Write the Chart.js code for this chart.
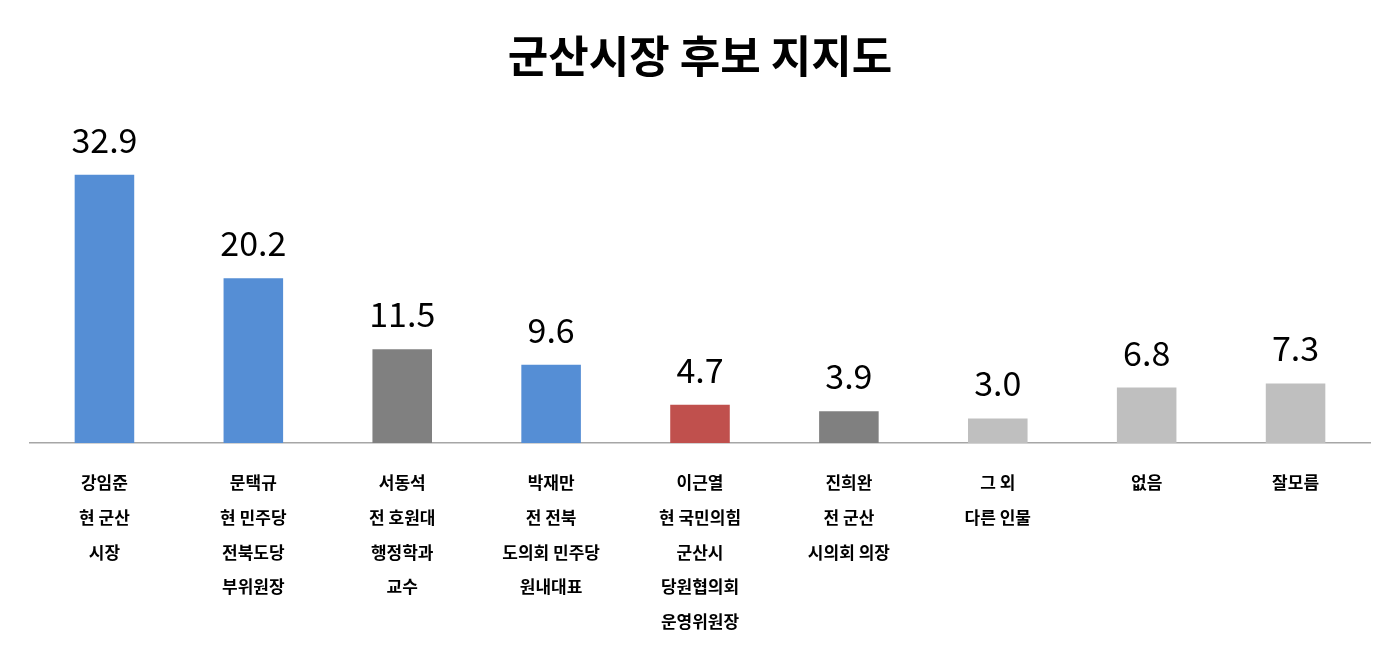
<!DOCTYPE html>
<html><head><meta charset="utf-8">
<script src="https://cdn.jsdelivr.net/npm/chart.js@4"></script>
<style>html,body{margin:0;background:#fff}#w{width:1400px;height:656px}</style>
</head><body><div id="w"><canvas id="c"></canvas></div>
<script>
const categories=[["강임준","현 군산","시장"],["문택규","현 민주당","전북도당","부위원장"],["서동석","전 호원대","행정학과","교수"],["박재만","전 전북","도의회 민주당","원내대표"],["이근열","현 국민의힘","군산시","당원협의회","운영위원장"],["진희완","전 군산","시의회 의장"],["그 외","다른 인물"],["없음"],["잘모름"]];
const values=[32.9,20.2,11.5,9.6,4.7,3.9,3.0,6.8,7.3];
const colors=["#558ED5","#558ED5","#808080","#558ED5","#C0504D","#808080","#BFBFBF","#BFBFBF","#BFBFBF"];
const title="군산시장 후보 지지도";
const F="'Noto Sans CJK KR','Malgun Gothic',sans-serif";
const deco={id:'deco',afterDraw(ch){const c=ch.ctx;c.save();c.fillStyle='#000';c.textAlign='center';
c.font="bold 44px "+F;c.textBaseline='middle';c.fillText(title,700,56);
c.font="34px "+F;c.textBaseline='bottom';const m=ch.getDatasetMeta(0);
m.data.forEach((b,i)=>c.fillText(values[i].toFixed(1),b.x,b.y-18));c.restore();}};
new Chart(document.getElementById('c'),{type:'bar',
data:{labels:categories,datasets:[{data:values,backgroundColor:colors,barPercentage:0.4,categoryPercentage:1}]},
options:{responsive:true,maintainAspectRatio:false,animation:false,
layout:{padding:{top:117,left:30,right:30,bottom:0}},
plugins:{legend:{display:false},tooltip:{enabled:false}},
scales:{y:{display:false,min:0,max:40},
x:{afterFit(s){s.height=213},grid:{display:false},border:{color:'#A6A6A6',width:1.5},
ticks:{color:'#000',font:{family:F,size:17,weight:'bold',lineHeight:2.05},padding:14,maxRotation:0,autoSkip:false}}}},
plugins:[deco]});
</script></body></html>
